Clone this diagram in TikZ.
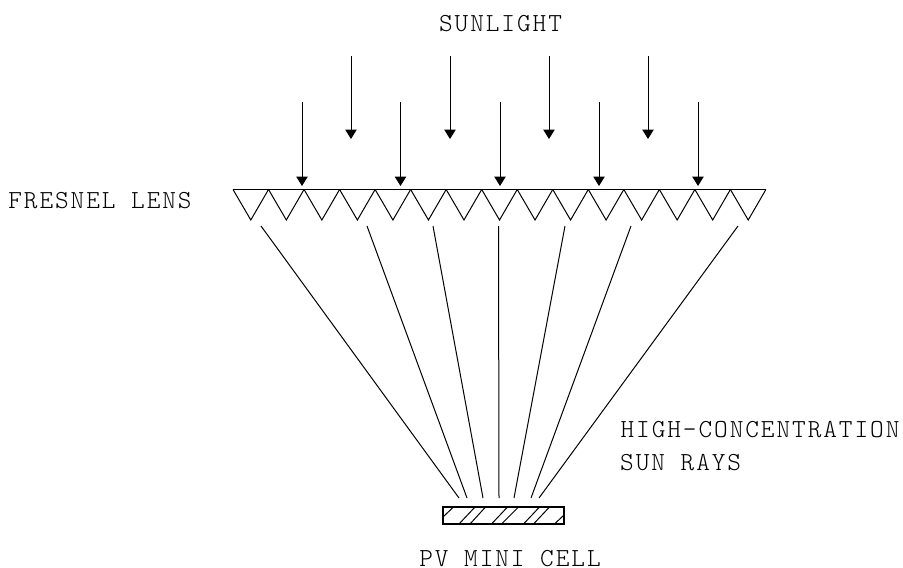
\documentclass[tikz,border=0pt]{standalone}
\usepackage{fontspec}
\setmonofont{Latin Modern Mono Light}[LetterSpace=7.5]
\usetikzlibrary{arrows.meta}
\tikzstyle{etiqueta}= [inner sep=0pt,font=\fontsize{26}{30}\selectfont\ttfamily]
\tikzstyle{flecha}= [-{Triangle[length=9.5pt,width=11.5pt]},black,line width=1pt]
\tikzstyle{rayo}= [black,line width=1pt]

\begin{document}
\begin{tikzpicture}[x=1pt,y=-1pt]
		\useasboundingbox (0,0) rectangle (903,568);

		\node (sunlight) at (500.5,23.5) [etiqueta] {SUNLIGHT};
		\node (fresnel) at (100,201) [etiqueta] {FRESNEL LENS};
		\node (high) at (760,430) [etiqueta] {HIGH-CONCENTRATION};
		\node (rays) at (620,463) [etiqueta,anchor=west] {SUN RAYS};
		\node (pv) at (510,558.5) [etiqueta] {PV MINI CELL};

		% flechas de la luz
		\foreach \x [count=\i] in {351,450,549,648} {
			\coordinate (s\i) at (\x,56);
			\coordinate (t\i) at (\x,139);
			\draw[flecha] (s\i) -- (t\i);
		}
		\foreach \x [count=\i] in {302,400.5,500,599,698} {
			\coordinate (u\i) at (\x,102);
			\coordinate (v\i) at (\x,186);
			\draw[flecha] (u\i) -- (v\i);
		}

		% lente
		\coordinate (l0) at (233,189.5);
		\coordinate (l15) at (766,189.5);
		\draw[rayo,line width=1.2pt] (l0) -- (l15);
		\foreach \i in {0,...,14} {
			\draw[rayo] (233+\i*35.53,189.5) -- (250.8+\i*35.53,220) -- (268.5+\i*35.53,189.5);
		}

		% rayos concentrados
		\foreach \a/\b [count=\i] in {261/459,367/467,433/483,498.5/499,565/514,631/531,738/539} {
			\coordinate (r\i) at (\a,226);
			\coordinate (c\i) at (\b,498);
			\draw[rayo] (r\i) -- (c\i);
		}

		% celda
		\node (cell) at (503.5,515.5) [draw,black,line width=1.2pt,minimum width=121pt,minimum height=17pt,inner sep=0pt] {};
		\foreach \a/\b/\c/\d in {443.5/516.5/453.5/507,459/524/475/507,470/524/485.5/507,491.5/524/507.5/507,501.5/524/518.5/507,523.5/524/539.5/507,533.5/524/549.5/507,554.5/524/564/515} {
			\draw[rayo] (\a,\b) -- (\c,\d);
		}
\end{tikzpicture}
\end{document}
